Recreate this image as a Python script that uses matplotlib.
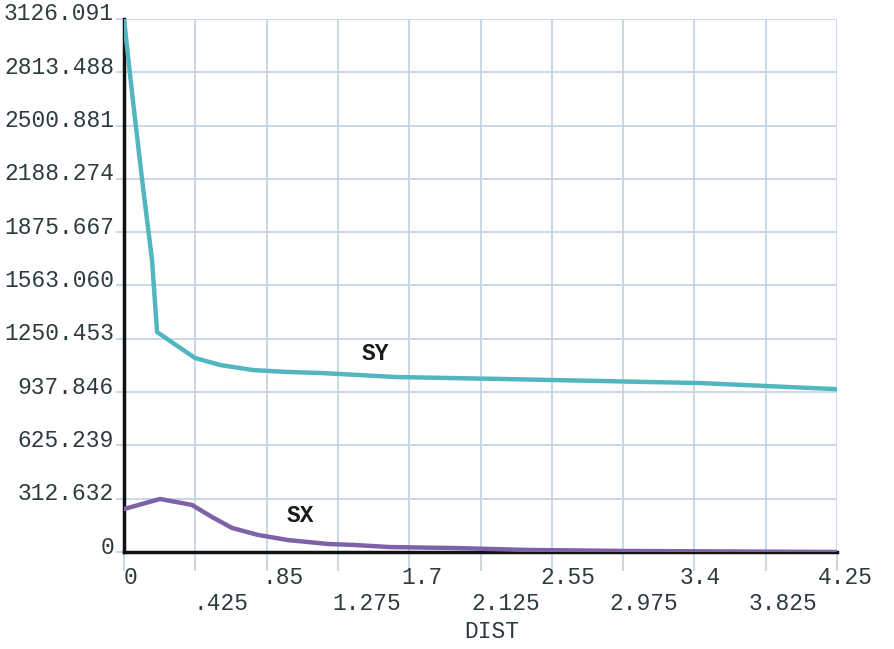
import matplotlib
matplotlib.use("Agg")
import matplotlib.pyplot as plt
import matplotlib.transforms as mtransforms
import numpy as np

# ---- data ----
sy_x = [0.0, 0.048, 0.113, 0.167, 0.197, 0.292, 0.423, 0.572, 0.769, 0.972, 1.168,
        1.627, 2.24, 2.837, 3.43, 4.25]
sy_y = [3126.0, 2692, 2141, 1713, 1290, 1226, 1138, 1097, 1067, 1056, 1050,
        1026, 1015, 1003, 991, 955]

sx_x = [0.0, 0.215, 0.405, 0.525, 0.644, 0.799, 0.978, 1.216, 1.377, 1.585, 1.985,
        2.40, 3.0, 4.25]
sx_y = [252, 311, 276, 205, 141, 100, 70, 47, 41, 29, 23, 12, 6, 0]

y_ticks = [0, 312.632, 625.239, 937.846, 1250.453, 1563.060, 1875.667,
           2188.274, 2500.881, 2813.488, 3126.091]
y_labels = ["0", "312.632", "625.239", "937.846", "1250.453", "1563.060",
            "1875.667", "2188.274", "2500.881", "2813.488", "3126.091"]
x_ticks = [0, 0.425, 0.85, 1.275, 1.7, 2.125, 2.55, 2.975, 3.4, 3.825, 4.25]
x_labels = ["0", ".425", ".85", "1.275", "1.7", "2.125", "2.55", "2.975", "3.4", "3.825", "4.25"]

grid_c = "#c6d6e4"
txt_c = "#2c3b3e"
font = ["Liberation Mono", "DejaVu Sans Mono"]
fs = 16.5

fig = plt.figure(figsize=(8.94, 6.49), dpi=100)
ax = fig.add_axes([124/894, 1-552/649, 713/894, 533/649])
ax.set_xlim(0, 4.25)
ax.set_ylim(0, 3126.091)

# grid lines
for yv in y_ticks:
    ax.axhline(yv, color=grid_c, lw=1.3, zorder=1)
for xv in x_ticks:
    ax.axvline(xv, color=grid_c, lw=1.3, zorder=1)

ax.set_xticks(x_ticks)
ax.set_yticks(y_ticks)
ax.set_xticklabels([])
ax.set_yticklabels([])
ax.tick_params(axis='x', length=14, width=1.3, color=grid_c, direction='out')
ax.tick_params(axis='y', length=6, width=1.3, color=grid_c, direction='out')

for s in ["top", "right"]:
    ax.spines[s].set_visible(False)
for s in ["left", "bottom"]:
    ax.spines[s].set_color("#111111")
    ax.spines[s].set_linewidth(2.5)
    ax.spines[s].set_zorder(2)

ax.plot(sy_x, sy_y, color="#52b6c1", lw=3.2, zorder=4)
ax.plot(sx_x, sx_y, color="#7d61a9", lw=3.2, zorder=4)

ax.text(1.496, 1167, "SY", fontsize=fs, fontweight="bold", family=font, color="#1a1a1a",
        ha="center", va="center", zorder=5)
ax.text(1.049, 217, "SX", fontsize=fs, fontweight="bold", family=font, color="#1a1a1a",
        ha="center", va="center", zorder=5)

# y labels
off_y = mtransforms.offset_copy(ax.transData, fig=fig, x=-10, y=5, units='dots')
for yv, lab in zip(y_ticks, y_labels):
    ax.text(0, yv, lab, transform=off_y, ha="right", va="center", fontsize=fs,
            family=font, color=txt_c, clip_on=False)

# x labels (two staggered rows)
for i, (xv, lab) in enumerate(zip(x_ticks, x_labels)):
    xpos = xv * 0.9734
    dy = -26 if i % 2 == 0 else -52
    tr = mtransforms.offset_copy(ax.get_xaxis_transform(), fig=fig, x=0, y=dy, units='dots')
    ax.text(xpos, 0, lab, transform=tr, ha="left", va="center", fontsize=fs,
            family=font, color=txt_c, clip_on=False)

fig.text(492/894, 1-632/649, "DIST", ha="center", va="center", fontsize=fs,
         family=font, color=txt_c)

fig.savefig("out.png", dpi=100)
